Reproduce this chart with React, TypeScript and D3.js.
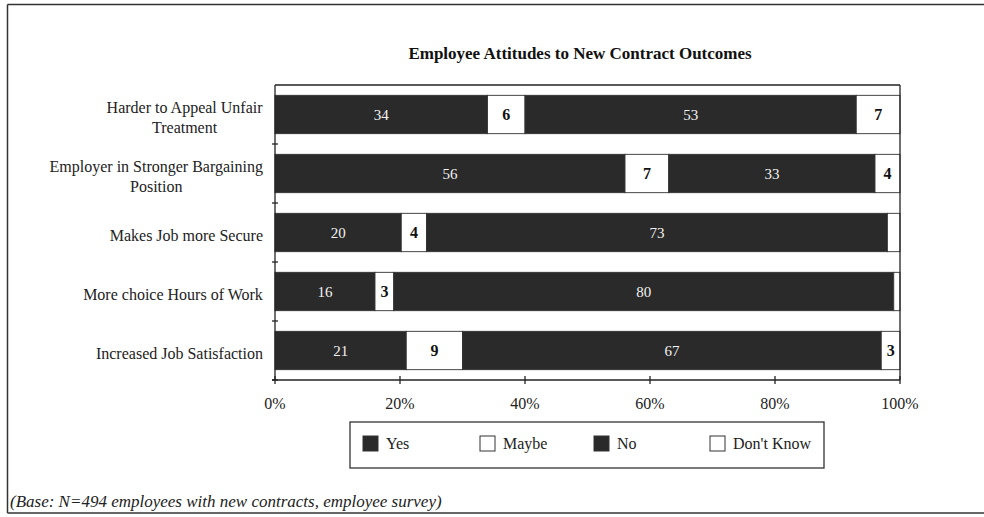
import React, { useEffect, useRef } from "react";
import * as d3 from "d3";

const title = "Employee Attitudes to New Contract Outcomes";
const categories = [
  ["Harder to Appeal Unfair", "Treatment"],
  ["Employer in Stronger Bargaining", "Position"],
  ["Makes Job more Secure"],
  ["More choice Hours of Work"],
  ["Increased Job Satisfaction"],
];
const seriesNames = ["Yes", "Maybe", "No", "Don't Know"];
const yesValues = [34, 56, 20, 16, 21];
const maybeValues = [6, 7, 4, 3, 9];
const noValues = [53, 33, 73, 80, 67];
const dontKnowValues = [7, 4, 2, 1, 3];
const xTicks = [0, 20, 40, 60, 80, 100];
const footnote = "(Base: N=494 employees with new contracts, employee survey)";

const W = 984;
const H = 517;
const DARK = "#2a2a2a";
const FONT = "'Liberation Serif', 'Times New Roman', serif";

export default function App() {
  const ref = useRef<SVGSVGElement | null>(null);

  useEffect(() => {
    const svg = d3.select(ref.current);
    svg.selectAll("*").remove();

    const seriesValues = [yesValues, maybeValues, noValues, dontKnowValues];
    const seriesFill = [DARK, "#ffffff", DARK, "#ffffff"];
    const keys = categories.map((c) => c.join(" "));

    const x = d3.scaleLinear().domain([0, 100]).range([275, 900]);
    const y = d3
      .scaleBand<string>()
      .domain(keys)
      .range([85, 380])
      .paddingInner(0.35)
      .paddingOuter(0.175);

    svg.append("rect").attr("width", W).attr("height", H).attr("fill", "#ffffff");

    // outer frame (top, left, bottom)
    const frame = svg.append("g").attr("stroke", "#333").attr("stroke-width", 1.5).attr("fill", "none");
    frame.append("line").attr("x1", 7.5).attr("x2", W).attr("y1", 4.5).attr("y2", 4.5);
    frame.append("line").attr("x1", 7.5).attr("x2", 7.5).attr("y1", 4.5).attr("y2", 513);
    frame.append("line").attr("x1", 7.5).attr("x2", W).attr("y1", 513).attr("y2", 513);

    // title
    svg
      .append("text")
      .attr("x", 580)
      .attr("y", 59)
      .attr("text-anchor", "middle")
      .attr("font-family", FONT)
      .attr("font-weight", "bold")
      .attr("font-size", 17)
      .attr("fill", "#111")
      .text(title);

    // bars
    const rowsG = svg.append("g");
    keys.forEach((key, i) => {
      const vals = seriesValues.map((s) => s[i]);
      const total = d3.sum(vals);
      let cum = 0;
      vals.forEach((v, j) => {
        const p0 = (cum / total) * 100;
        cum += v;
        const p1 = (cum / total) * 100;
        const x0 = x(p0);
        const x1 = x(p1);
        const y0 = y(key)!;
        const bw = y.bandwidth();
        rowsG
          .append("rect")
          .attr("x", x0)
          .attr("y", y0)
          .attr("width", x1 - x0)
          .attr("height", bw)
          .attr("fill", seriesFill[j])
          .attr("stroke", "#333")
          .attr("stroke-width", 0.9);
        if (v >= 3) {
          const dark = seriesFill[j] === DARK;
          rowsG
            .append("text")
            .attr("x", (x0 + x1) / 2)
            .attr("y", y0 + bw / 2 + 5)
            .attr("text-anchor", "middle")
            .attr("font-family", FONT)
            .attr("font-size", dark ? 15 : 16)
            .attr("font-weight", dark ? "normal" : "bold")
            .attr("fill", dark ? "#f2f2f2" : "#111")
            .text(String(v));
        }
      });
    });

    // plot frame & axes
    const ax = svg.append("g").attr("stroke", "#222").attr("stroke-width", 1.3).attr("fill", "none");
    ax.append("line").attr("x1", x(0)).attr("x2", x(100)).attr("y1", 85).attr("y2", 85);
    ax.append("line").attr("x1", x(100)).attr("x2", x(100)).attr("y1", 85).attr("y2", 380);
    ax.append("line").attr("x1", x(0)).attr("x2", x(0)).attr("y1", 85).attr("y2", 380);
    ax.append("line").attr("x1", x(0) - 3).attr("x2", x(100)).attr("y1", 380).attr("y2", 380);

    // y ticks at band boundaries
    const step = y.step();
    keys.forEach((key, i) => {
      const yy = 85 + step * (i + 1);
      ax.append("line").attr("x1", x(0) - 3).attr("x2", x(0) + 3).attr("y1", yy).attr("y2", yy);
    });
    // x ticks
    xTicks.forEach((t) => {
      ax.append("line").attr("x1", x(t)).attr("x2", x(t)).attr("y1", 376).attr("y2", 384);
      svg
        .append("text")
        .attr("x", x(t))
        .attr("y", 409)
        .attr("text-anchor", "middle")
        .attr("font-family", FONT)
        .attr("font-size", 16)
        .attr("fill", "#222")
        .text(`${t}%`);
    });

    // y labels: each block center-aligned, right edge at 263
    const canvas = document.createElement("canvas");
    const ctx = canvas.getContext("2d")!;
    ctx.font = `16px ${FONT}`;
    categories.forEach((lines, i) => {
      const key = keys[i];
      const cy = y(key)! + y.bandwidth() / 2 + 3;
      const maxW = d3.max(lines, (l) => ctx.measureText(l).width) || 0;
      const cx = 263 - maxW / 2;
      const lh = 20;
      lines.forEach((l, k) => {
        const ly = cy + (k - (lines.length - 1) / 2) * lh + 5;
        svg
          .append("text")
          .attr("x", cx)
          .attr("y", ly)
          .attr("text-anchor", "middle")
          .attr("font-family", FONT)
          .attr("font-size", 16)
          .attr("fill", "#222")
          .text(l);
      });
    });

    // legend
    const lg = svg.append("g");
    lg.append("rect")
      .attr("x", 350)
      .attr("y", 422)
      .attr("width", 474)
      .attr("height", 46)
      .attr("fill", "#fff")
      .attr("stroke", "#333")
      .attr("stroke-width", 1.3);
    const legendX = [363, 480, 594, 710];
    seriesNames.forEach((name, j) => {
      lg.append("rect")
        .attr("x", legendX[j])
        .attr("y", 436)
        .attr("width", 15)
        .attr("height", 15)
        .attr("fill", seriesFill[j])
        .attr("stroke", "#333")
        .attr("stroke-width", 1);
      lg.append("text")
        .attr("x", legendX[j] + 23)
        .attr("y", 449)
        .attr("font-family", FONT)
        .attr("font-size", 16)
        .attr("fill", "#222")
        .text(name);
    });

    // footnote
    svg
      .append("text")
      .attr("x", 10)
      .attr("y", 507)
      .attr("font-family", FONT)
      .attr("font-style", "italic")
      .attr("font-size", 17)
      .attr("fill", "#222")
      .text(footnote);
  }, []);

  return (
    <svg
      ref={ref}
      width={W}
      height={H}
      style={{ position: "absolute", left: 0, top: 0, display: "block" }}
    />
  );
}
